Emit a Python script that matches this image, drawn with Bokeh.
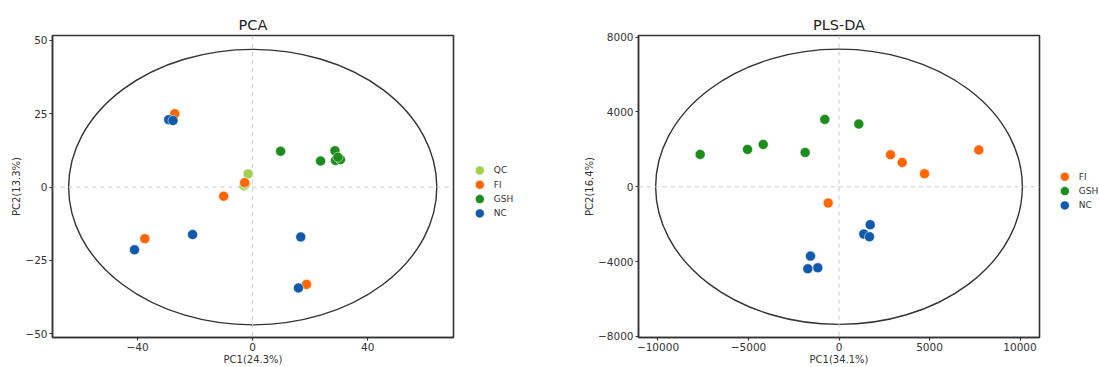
from bokeh.plotting import figure
from bokeh.models import Span, FixedTicker, Range1d
from bokeh.core.properties import value
from bokeh.layouts import row
from bokeh.embed import file_html
from bokeh.resources import INLINE

FONT = "DejaVu Sans"
INK = "#333333"

# ---------------- data ----------------
pca_groups = ["QC", "FI", "GSH", "NC"]
pca_colors = ["#A0D250", "#FF6600", "#1C8C1C", "#0F5AAA"]
pca_x = {
    "QC": [-1.6, -3.0, -2.5],
    "FI": [-27.1, -2.8, -10.1, -37.5, 18.7],
    "GSH": [9.7, 23.6, 28.6, 28.8, 30.5, 29.6],
    "NC": [-29.2, -27.7, -20.9, -41.1, 16.7, 15.9],
}
pca_y = {
    "QC": [4.5, 0.4, 1.0],
    "FI": [25.0, 1.5, -3.1, -17.6, -33.2],
    "GSH": [12.2, 8.9, 12.4, 9.1, 9.4, 10.2],
    "NC": [23.0, 22.7, -16.2, -21.4, -17.0, -34.4],
}
pca_ellipse = [64.0, 47.0]          # semi-axes
pca_xticks = [-40, 0, 40]
pca_yticks = [-50, -25, 0, 25, 50]

pls_groups = ["FI", "GSH", "NC"]
pls_colors = ["#FF6600", "#1C8C1C", "#0F5AAA"]
pls_x = {
    "FI": [2845, 3490, 4724, 7724, -597],
    "GSH": [-7669, -5055, -4188, -1869, -785, 1094],
    "NC": [-1575, -1724, -1171, 1724, 1370, 1685],
}
pls_y = {
    "FI": [1712, 1300, 696, 1963, -872],
    "GSH": [1728, 1996, 2263, 1835, 3601, 3355],
    "NC": [-3708, -4387, -4334, -2033, -2531, -2675],
}
pls_ellipse = [10130, 7360]
pls_xticks = [-10000, -5000, 0, 5000, 10000]
pls_yticks = [-8000, -4000, 0, 4000, 8000]

H = 367
BT, FH, BB = 35, 302, 30


def make_panel(title, groups, colors, xs, ys, ell, xticks, yticks, xr, yr,
               xlabel, ylabel, bl, fw, br, ylab_standoff):
    p = figure(frame_width=fw, frame_height=FH, output_backend="svg",
               toolbar_location=None, tools="",
               x_range=Range1d(*xr), y_range=Range1d(*yr),
               min_border_left=bl, min_border_right=br,
               min_border_top=BT, min_border_bottom=BB)
    p.background_fill_color = "white"
    p.border_fill_color = "white"
    p.xgrid.visible = False
    p.ygrid.visible = False
    p.outline_line_color = INK
    p.outline_line_width = 1.6
    p.outline_line_alpha = 1

    p.title.text = title
    p.title.align = "center"
    p.title.text_font = FONT
    p.title.text_font_size = "14.5px"
    p.title.text_font_style = "normal"
    p.title.text_color = "#222222"
    p.title.standoff = 6

    for ax, ticks in ((p.xaxis[0], xticks), (p.yaxis[0], yticks)):
        ax.ticker = FixedTicker(ticks=ticks)
        ax.minor_tick_line_color = None
        ax.major_tick_in = 0
        ax.major_tick_out = 3
        ax.major_tick_line_color = INK
        ax.major_tick_line_width = 1.2
        ax.axis_line_color = INK
        ax.axis_line_width = 1.4
        ax.major_label_text_font = FONT
        ax.major_label_text_font_size = "10.5px"
        ax.major_label_text_color = INK
        ax.axis_label_text_font = FONT
        ax.axis_label_text_font_size = "10px"
        ax.axis_label_text_font_style = "normal"
        ax.axis_label_text_color = INK
    p.xaxis[0].axis_label = xlabel
    p.xaxis[0].major_label_standoff = 2
    p.xaxis[0].axis_label_standoff = 0
    p.yaxis[0].axis_label = ylabel
    p.yaxis[0].major_label_standoff = 2
    p.yaxis[0].axis_label_standoff = ylab_standoff

    p.add_layout(Span(location=0, dimension="height", line_color="#c8c8c8",
                      line_dash="4 4", line_width=1))
    p.add_layout(Span(location=0, dimension="width", line_color="#c8c8c8",
                      line_dash="4 4", line_width=1))

    p.ellipse(x=[0], y=[0], width=[2 * ell[0]], height=[2 * ell[1]],
              fill_color=None, line_color=INK, line_width=1.4)

    for g, c in zip(groups, colors):
        p.scatter(x=xs[g], y=ys[g], size=10, marker="circle",
                  fill_color=c, line_color="white", line_width=0.5)
    return p


def make_legend(groups, colors, width, dot_x, first_y, pitch=17.4):
    """Legend strip: pixel-space figure (y measured from the top)."""
    q = figure(width=width, height=H, output_backend="svg",
               toolbar_location=None, tools="",
               x_range=Range1d(0, width), y_range=Range1d(H, 0),
               x_axis_type=None, y_axis_type=None,
               min_border=0)
    q.outline_line_color = None
    q.xgrid.visible = False
    q.ygrid.visible = False
    q.background_fill_color = "white"
    q.border_fill_color = "white"
    ys = [first_y + i * pitch for i in range(len(groups))]
    q.scatter(x=[dot_x] * len(groups), y=ys, size=9, marker="circle",
              fill_color=colors, line_color="white", line_width=0.5)
    q.text(x=[dot_x + 14] * len(groups), y=ys, text=groups,
           text_font=value(FONT), text_font_size=value("9px"),
           text_color=INK, text_baseline="middle", text_align="left")
    return q


p1 = make_panel("PCA", pca_groups, pca_colors, pca_x, pca_y, pca_ellipse,
                pca_xticks, pca_yticks, (-69.6, 69.8), (-51.3, 51.7),
                "PC1(24.3%)", "PC2(13.3%)", 52, 401, 12, 0)
l1 = make_legend(pca_groups, pca_colors, 103, 14.3, 164.0)
p2 = make_panel("PLS-DA", pls_groups, pls_colors, pls_x, pls_y, pls_ellipse,
                pls_xticks, pls_yticks, (-11077, 11077), (-8060, 8090),
                "PC1(34.1%)", "PC2(16.4%)", 70, 401, 10, 0)
l2 = make_legend(pls_groups, pls_colors, 50, 15.3, 171.7)

layout = row(p1, l1, p2, l2)
open("out.html", "w").write(file_html(layout, INLINE))
